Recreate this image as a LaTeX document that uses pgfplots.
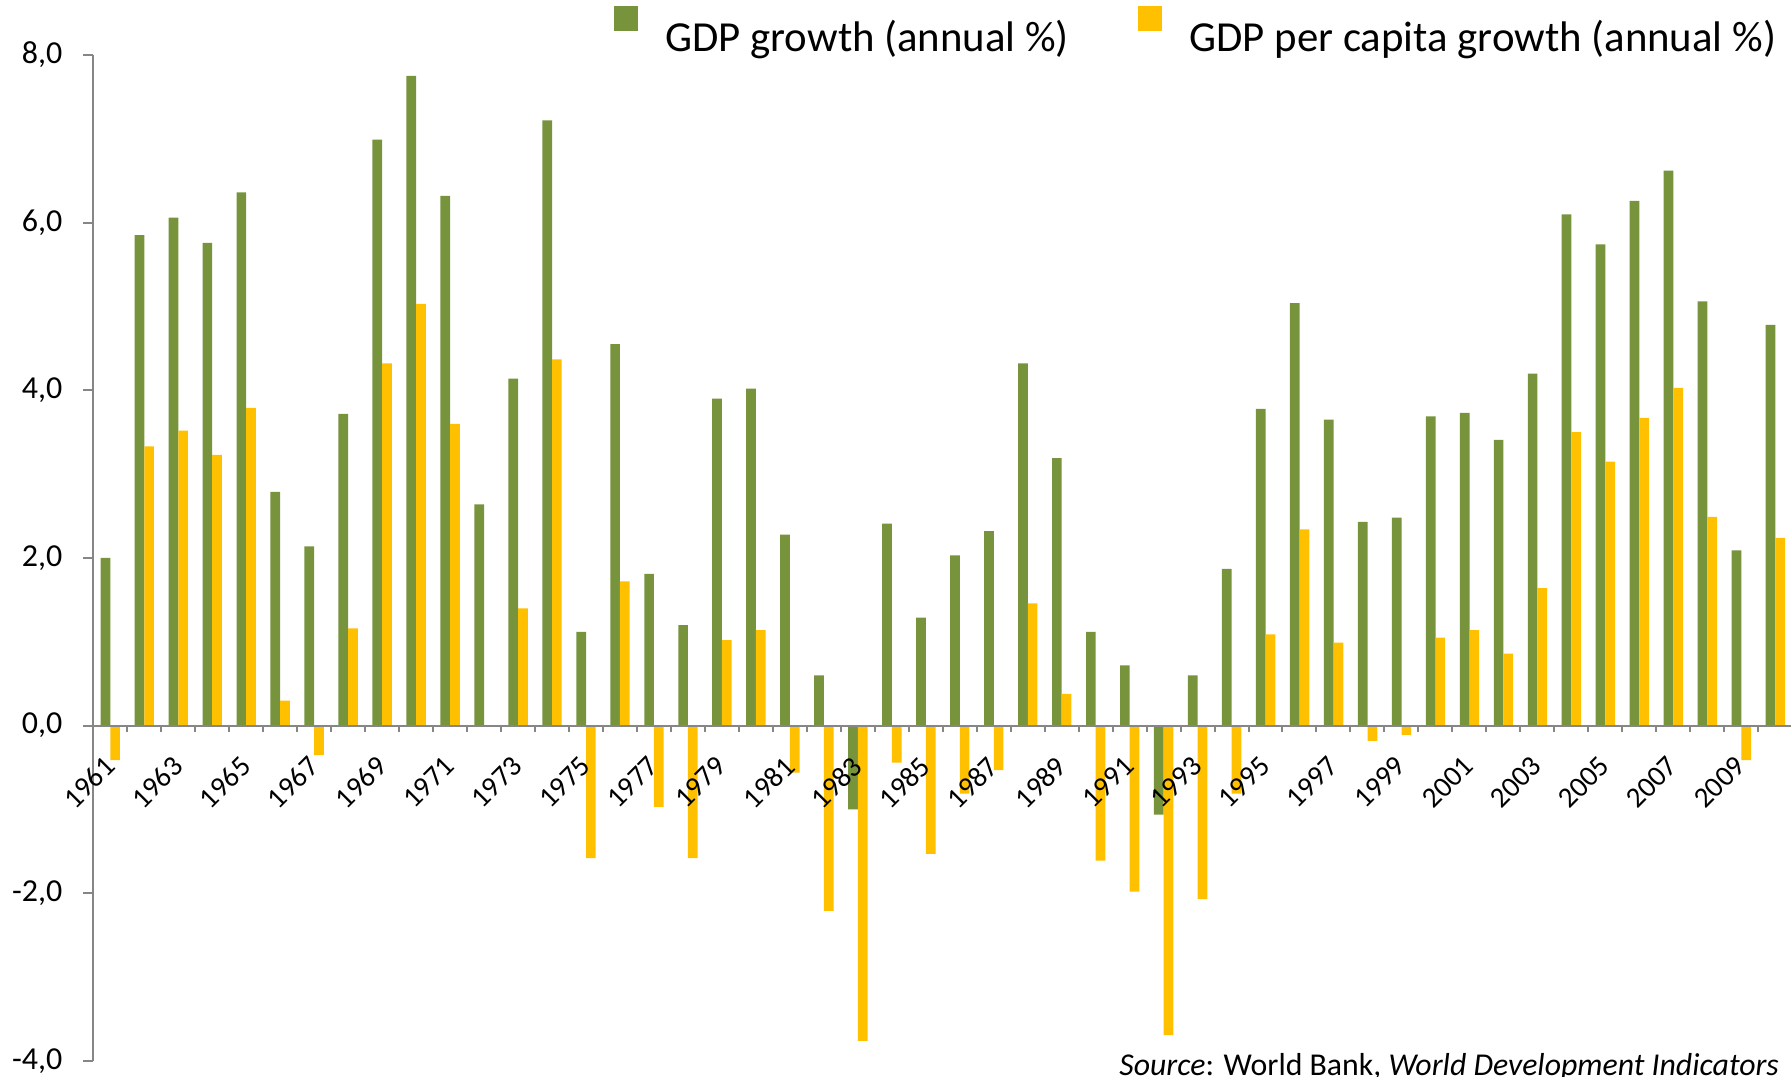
\documentclass[border=0pt]{standalone}
\usepackage{fontspec}
\setmainfont{Carlito}
\usepackage{pgfplots}
\usepackage{pgfplotstable}
\pgfplotsset{compat=1.18}

\definecolor{gdpgreen}{HTML}{77933C}
\definecolor{pcyellow}{HTML}{FFC000}
\definecolor{axisgray}{HTML}{868686}

% year, GDP growth (annual %), GDP per capita growth (annual %)
\pgfplotstableread{
year gdp pc
1961 2.00 -0.41
1962 5.85 3.33
1963 6.06 3.52
1964 5.76 3.23
1965 6.36 3.79
1966 2.79 0.30
1967 2.14 -0.35
1968 3.72 1.16
1969 6.99 4.32
1970 7.75 5.03
1971 6.32 3.60
1972 2.64 -0.01
1973 4.14 1.40
1974 7.22 4.37
1975 1.12 -1.58
1976 4.55 1.72
1977 1.81 -0.97
1978 1.20 -1.58
1979 3.90 1.02
1980 4.02 1.14
1981 2.28 -0.56
1982 0.60 -2.21
1983 -1.00 -3.76
1984 2.41 -0.44
1985 1.29 -1.53
1986 2.03 -0.81
1987 2.32 -0.53
1988 4.32 1.46
1989 3.19 0.38
1990 1.12 -1.61
1991 0.72 -1.98
1992 -1.06 -3.69
1993 0.60 -2.07
1994 1.87 -0.81
1995 3.78 1.09
1996 5.04 2.34
1997 3.65 0.99
1998 2.43 -0.18
1999 2.48 -0.11
2000 3.69 1.05
2001 3.73 1.14
2002 3.41 0.86
2003 4.20 1.64
2004 6.10 3.50
2005 5.74 3.15
2006 6.26 3.67
2007 6.62 4.03
2008 5.06 2.49
2009 2.09 -0.41
2010 4.78 2.24
}\growthdata

\begin{document}
\begin{tikzpicture}
\useasboundingbox (0,0) rectangle (895.5pt,538pt);
\begin{axis}[
  at={(46.65pt,7.5pt)}, anchor=south west,
  scale only axis, width=849.5pt, height=503pt,
  ybar=0pt, bar width=4.85pt,
  xmin=1960.5, xmax=2010.5,
  ymin=-4, ymax=8,
  axis x line=middle, axis y line=left,
  axis line style={draw=axisgray, line width=1pt, -},
  axis on top,
  tick align=outside,
  tick style={draw=axisgray, line width=1pt},
  major tick length=5pt, minor tick length=3.4pt,
  ytick={-4,-2,...,8},
  xtick={1961,1963,...,2009},
  minor xtick={1960.5,1961.5,...,2010.5},
  major x tick style={draw=none},
  /pgf/number format/assume math mode=true,
  yticklabel style={
    font=\fontsize{16pt}{19pt}\selectfont, anchor=east, inner sep=0pt, xshift=-10.3pt,
    /pgf/number format/.cd, fixed, fixed zerofill, precision=1, use comma},
  xticklabel style={
    font=\fontsize{14.5pt}{17pt}\selectfont, xshift=-3.75pt, yshift=-9.25pt,
    rotate=45, anchor=north east, inner sep=0pt,
    /pgf/number format/1000 sep={}},
  legend columns=2,
  legend image code/.code={\fill[#1,draw=none] (0pt,3.2pt) rectangle (12.2pt,15.55pt);},
  legend style={draw=none, fill=none, inner sep=0pt,
    at={(0.306,1.0487)}, anchor=north west,
    font=\fontsize{21.4pt}{25pt}\selectfont,
    nodes={inner sep=1pt},
    /tikz/every odd column/.append style={column sep=12.7pt},
    /tikz/every even column/.append style={column sep=33.4pt}},
]
\addplot[fill=gdpgreen, draw=none] table[x=year, y=gdp] {\growthdata};
\addplot[fill=pcyellow, draw=none] table[x=year, y=pc] {\growthdata};
\legend{GDP growth (annual \%), GDP per capita growth (annual \%)}
\end{axis}
\node[anchor=base west, inner sep=0pt, font=\fontsize{15.9pt}{18pt}\selectfont]
  at (559.5pt,0.5pt) {\textit{Source}: World Bank, \textit{World Development Indicators}};
\end{tikzpicture}
\end{document}
